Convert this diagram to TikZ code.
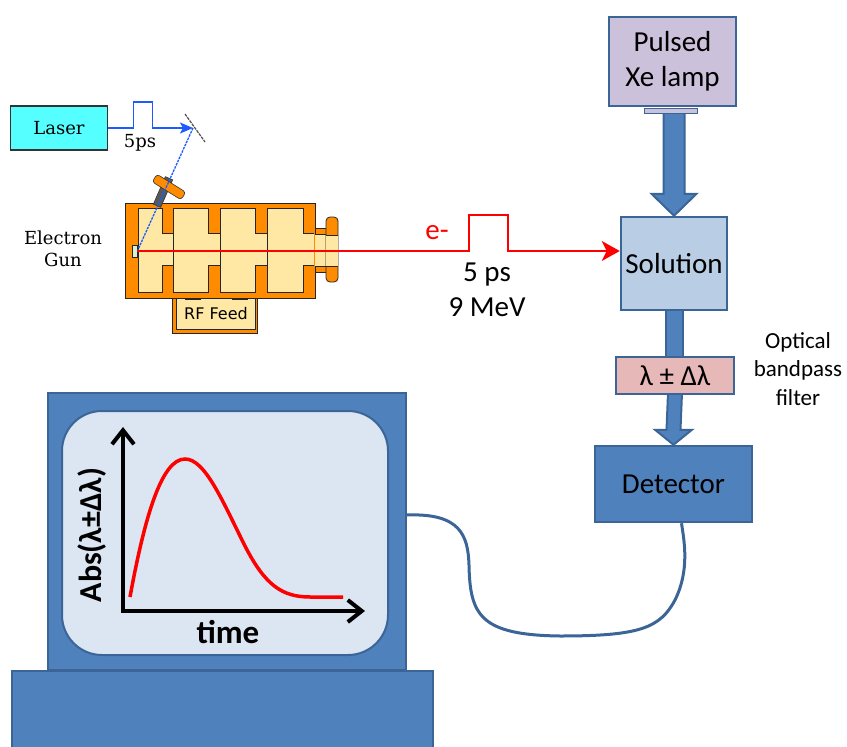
\documentclass[tikz,border=0pt]{standalone}
\usepackage{fontspec}
\setmainfont{Carlito}
\newfontfamily\serifold{DejaVu Serif}
\newfontfamily\sansold{DejaVu Sans}
\usetikzlibrary{arrows.meta,calc}
\pgfdeclarelayer{bg}
\pgfsetlayers{bg,main}
\definecolor{edgeblue}{HTML}{3B6596}
\definecolor{midblue}{HTML}{4F81BD}
\definecolor{lampfill}{HTML}{CCC1DA}
\definecolor{solfill}{HTML}{B9CDE5}
\definecolor{filtfill}{HTML}{E6B9B8}
\definecolor{screenfill}{HTML}{DCE6F2}
\definecolor{gunorange}{HTML}{FF8C00}
\definecolor{gunlight}{HTML}{FFE8A3}
\definecolor{lasercyan}{HTML}{55FFFF}
\definecolor{beamblue}{HTML}{1E5BFF}
\definecolor{cathodegreen}{HTML}{D6F0D0}
\begin{document}
\begin{tikzpicture}[x=1pt,y=-1pt,
  box/.style={draw=edgeblue, line width=2.5pt, inner sep=0pt, align=center,
    font=\fontsize{29}{35}\selectfont},
  blk/.style={draw=edgeblue, fill=midblue, line width=2pt, line join=miter},
  gunpart/.style={draw=black!85, line width=0.8pt},
  lbeam/.style={draw=beamblue, line width=1.4pt},
  ebeam/.style={draw=red, line width=1.4pt},
  oldtext/.style={font=\serifold\fontsize{18}{22}\selectfont, align=center},
  label/.style={font=\fontsize{29}{35}\selectfont, align=center},
  axis/.style={line width=4pt, line join=miter,
    {Straight Barb[length=14pt,width=22pt]}-{Straight Barb[length=14pt,width=22pt]}},
  panel/.style={draw=edgeblue, fill=midblue, line width=2pt, inner sep=0pt}
]
\useasboundingbox (0,0) rectangle (847,747);
\clip (0,0) rectangle (847,747);

% ---------- laser ----------
\node[draw=black!80, line width=1.5pt, fill=lasercyan, minimum width=97, minimum height=44,
      inner sep=0, oldtext] (laser) at (59,128) {Laser};
\coordinate (mirror) at (193,128);
\draw[black!70, line width=1.2pt, dash pattern=on 3pt off 1pt] (185,114) -- (205,142);
\draw[lbeam, -{Stealth[length=13pt,width=11pt,inset=3pt]}]
  (laser.east) -- ++(25,0) -- ++(0,-26) -- ++(19,0) -- ++(0,26) -- (mirror);
\node[oldtext] (laserpulse) at (140,143) {5ps};

% ---------- electron gun ----------
\node[oldtext] (gunlabel) at (63,249) {Electron\\Gun};
% RF feed housing
\fill[gunorange] (172,296) rectangle (257,333);
\draw[gunpart] (172,296) -- (172,333) -- (257,333) -- (257,296);
\node[gunpart, fill=gunlight, minimum width=79, minimum height=31, inner sep=0,
      font=\sansold\fontsize{16}{16}\selectfont] (rffeed) at (216,313.5) {RF Feed};
\draw[gunpart, fill=gunlight] (185,292) rectangle (200,299);
\draw[gunpart, fill=gunlight] (232,292) rectangle (247,299);
% body
\node[gunpart, fill=gunorange, minimum width=190, minimum height=95, inner sep=0] (gun) at (220,250.5) {};
\foreach \a/\b in {138/162,173/208,220/255,267/303}
  \draw[gunpart, fill=gunlight] (\a,208) rectangle (\b,292);
\foreach \a/\b in {162/173,208/220,255/267,303/314}{
  \fill[gunlight] (\a-0.4,233) rectangle (\b+0.4,265);
  \draw[gunpart] (\a,233) -- (\b,233) (\a,265) -- (\b,265);
}
% output end
\draw[gunpart, fill=gunorange] (315,228) rectangle (327,272);
\fill[gunlight] (315.4,234) rectangle (326.6,266);
\draw[gunpart] (315,234) -- (327,234) (315,266) -- (327,266);
\draw[gunpart, fill=gunorange, rounded corners=4pt] (326,217) rectangle (338,282);
\fill[gunlight] (326.4,235) rectangle (337.6,266);
\draw[gunpart] (326,235) -- (338,235) (326,266) -- (338,266);
% cathode
\node[gunpart, fill=cathodegreen, minimum width=5, minimum height=12, inner sep=0] (cathode) at (134.5,251) {};
% laser port mount
\node[draw=black!80, line width=0.6pt, fill=black!65, minimum width=30, minimum height=8,
      inner sep=0, rotate=66.5] (port) at (163,192) {};
\node[draw=black!80, line width=0.6pt, fill=gunorange, rounded corners=3pt, minimum width=34,
      minimum height=9, inner sep=0, rotate=-32] (portbar) at (169,187) {};
\draw[lbeam, line width=1.3pt, dash pattern=on 2.5pt off 1pt] (mirror) -- (cathode.east);

% ---------- sample column ----------
\node[box, fill=lampfill, minimum width=127, minimum height=89] (lamp) at (672.5,61.5) {Pulsed\\Xe lamp};
\node[box, fill=solfill, minimum width=106, minimum height=93] (solution) at (674,263.5) {Solution};
\node[box, fill=filtfill, minimum width=118, minimum height=37] (filter) at (675,375.5) {λ ± Δλ};
\node[box, fill=midblue, minimum width=157, minimum height=76] (detector) at (673.5,484) {Detector};
\node[font=\fontsize{23}{28.5}\selectfont, align=center] (filtlabel) at (798,369) {Optical\\bandpass\\filter};

\begin{pgfonlayer}{bg}
  \draw[blk] ($(solution.north)+(-10.5,-104)$) -- ($(solution.north)+(-10.5,-22)$)
    -- ($(solution.north)+(-22.5,-22)$) -- (solution.north) -- ($(solution.north)+(22.5,-22)$)
    -- ($(solution.north)+(10.5,-22)$) -- ($(solution.north)+(10.5,-104)$) -- cycle;
  \draw[blk] ($(solution.south)+(-8,-2)$) rectangle ($(filter.north)+(8,2)$);
  \draw[blk] ($(filter.south)+(-7,-2)$) -- ($(detector.north)+(-7,-15)$)
    -- ($(detector.north)+(-18.5,-15)$) -- (detector.north) -- ($(detector.north)+(18.5,-15)$)
    -- ($(detector.north)+(7,-15)$) -- ($(filter.south)+(7,-2)$) -- cycle;
\end{pgfonlayer}
\node[draw=edgeblue, line width=1.5pt, fill=lampfill, minimum width=53, minimum height=5, inner sep=0]
  (stub) at ($(lamp.south)+(-1.5,3.5)$) {};

% ---------- electron pulse ----------
\draw[ebeam, -{Stealth[length=18pt,width=20pt,inset=5pt]}]
  (cathode.east) -- (469,251) -- (469,215) -- (508,215) -- (508,251) -- (cathode.east -| solution.west);
\node[label, text=red] (elabel) at (437,233) {e-};
\node[label] (pulselabel) at (487,290) {5 ps\\9 MeV};

% ---------- oscilloscope ----------
\node[panel, minimum width=358, minimum height=277] (monitor) at (227,531.5) {};
\node[panel, minimum width=421, minimum height=110] (base) at (222.5,726) {};
\node[draw=edgeblue, fill=screenfill, line width=2pt, rounded corners=40pt,
      minimum width=326, minimum height=244, inner sep=0] (screen) at (225,533) {};
\coordinate (yaxis) at (123,427);
\coordinate (origin) at (123,611);
\coordinate (xaxis) at (365,611);
\draw[red, line width=3.5pt] (130,597) .. controls (145,515) and (162,459) .. (185,459)
  .. controls (205,459) and (222,500) .. (245,546) .. controls (265,585) and (282,597) .. (310,597) -- (343,597);
\draw[axis] (yaxis) -- (origin) -- (xaxis);
\node[font=\bfseries\fontsize{32}{32}\selectfont, rotate=90] (ylabel) at (92,535) {Abs(λ±Δλ)};
\node[font=\bfseries\fontsize{33}{33}\selectfont] (xlabel) at (228,632) {time};

% ---------- signal cable ----------
\draw[edgeblue, line width=3pt] ([yshift=16.5pt]monitor.east) .. controls (460,513) and (468,535) .. (469,565)
  .. controls (470,615) and (480,635) .. (560,636) .. controls (640,636) and (660,628) .. (675,600)
  .. controls (690,570) and (684,540) .. ([xshift=8pt]detector.south);
\end{tikzpicture}
\end{document}
